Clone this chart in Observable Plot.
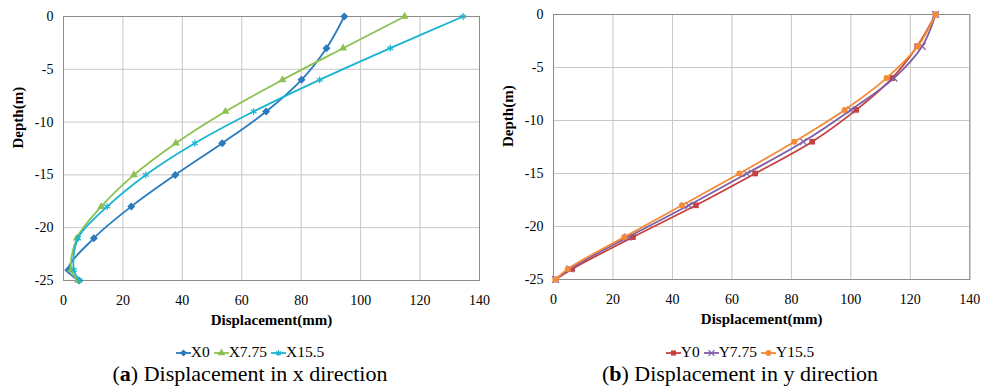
<!DOCTYPE html>
<html><head><meta charset="utf-8">
<script src="https://cdn.jsdelivr.net/npm/d3@7"></script>
<script src="https://cdn.jsdelivr.net/npm/@observablehq/plot@0.6"></script>
<style>
body{margin:0;background:#fff;font-family:"Liberation Serif",serif;}
#wrap{position:relative;width:982px;height:387px;overflow:hidden;}
.panel{position:absolute;top:0;}
.legend{position:absolute;top:342px;height:20px;line-height:20px;font-size:15.5px;text-align:center;white-space:nowrap;}
.legend span.item{display:inline-block;margin:0 2px;}
.legend svg{vertical-align:middle;margin-right:0px;}
.caption{position:absolute;top:362px;height:24px;line-height:24px;font-size:22px;text-align:center;white-space:nowrap;}
</style></head>
<body>
<div id="wrap"></div>
<script>
const depth = [0, -3, -6, -9, -12, -15, -18, -21, -24, -25];
const X0    = [94.5, 88.5, 80.1, 68.2, 53.4, 37.6, 22.8, 10.2, 1.6, 5.2];
const X7_75 = [114.8, 94.1, 73.7, 54.5, 37.8, 23.7, 12.7, 4.5, 2.6, 4.9];
const X15_5 = [134.5, 110.0, 86.2, 64.0, 44.2, 27.7, 14.7, 4.9, 3.5, 5.4];
const Y0    = [128.5, 122.3, 113.9, 101.8, 87.0, 67.8, 47.9, 26.7, 6.3, 0.7];
const Y7_75 = [128.5, 124.0, 114.5, 100.0, 84.0, 65.0, 45.5, 25.0, 5.5, 0.7];
const Y15_5 = [128.5, 122.5, 112.0, 97.9, 81.0, 62.5, 43.2, 23.8, 4.8, 0.7];
const xTicks = [0, 20, 40, 60, 80, 100, 120, 140];
const yTicks = [0, -5, -10, -15, -20, -25];
const xLabel = "Displacement(mm)";
const yLabel = "Depth(m)";

const seriesA = [
  {name: "X0", values: X0, color: "#2a7bbd", symbol: "square", rot: 45, filled: true},
  {name: "X7.75", values: X7_75, color: "#8cc152", symbol: "triangle", rot: 0, filled: true},
  {name: "X15.5", values: X15_5, color: "#18b4d0", symbol: "asterisk", rot: 0, filled: false}
];
const seriesB = [
  {name: "Y0", values: Y0, color: "#c4413f", symbol: "square", rot: 0, filled: true},
  {name: "Y7.75", values: Y7_75, color: "#7e5ea6", symbol: "times", rot: 0, filled: false},
  {name: "Y15.5", values: Y15_5, color: "#f58a35", symbol: "circle", rot: 0, filled: true}
];

function panel(series, opts) {
  const marks = [
    Plot.gridX(xTicks, {stroke: "#c4c4c4", strokeOpacity: 1}),
    Plot.gridY(yTicks, {stroke: "#c8c8c8", strokeOpacity: 1}),
    Plot.frame({stroke: "#8c8c8c"}),
    Plot.axisX(xTicks, {tickSize: 0, tickPadding: 15, tickFormat: d => String(d), label: null, fontSize: 14}),
    Plot.axisY(yTicks, {tickSize: 0, tickPadding: 10, tickFormat: d => String(d), label: null, fontSize: 14}),
    Plot.text([xLabel], {frameAnchor: "bottom", dy: 44, text: d => d, fontWeight: "bold", fontSize: 15}),
    Plot.text([yLabel], {frameAnchor: "left", dx: -45, rotate: -90, text: d => d, fontWeight: "bold", fontSize: 15})
  ];
  for (const s of series) {
    const rows = depth.map((d, i) => ({x: s.values[i], y: d}));
    marks.push(Plot.line(rows, {x: "x", y: "y", stroke: s.color, strokeWidth: 1.8, curve: "catmull-rom"}));
    if (s.filled) {
      marks.push(Plot.dot(rows, {x: "x", y: "y", fill: s.color, stroke: "none", symbol: s.symbol, rotate: s.rot,
        r: s.symbol === "square" ? 3.2 : 3}));
    } else {
      marks.push(Plot.dot(rows, {x: "x", y: "y", stroke: s.color, fill: "none", symbol: s.symbol, r: 3.2, strokeWidth: 1.2}));
    }
  }
  return Plot.plot({
    width: opts.width, height: 335,
    marginLeft: 63, marginRight: opts.marginRight, marginTop: opts.marginTop, marginBottom: 335 - opts.bottom,
    x: {domain: [0, 140]},
    y: {domain: [-25, 0]},
    style: {fontFamily: "'Liberation Serif', serif", fontSize: "14px", color: "#000", background: "transparent"},
    marks
  });
}

const symMap = {triangle: d3.symbolTriangle, asterisk: d3.symbolAsterisk,
  square: d3.symbolSquare, times: d3.symbolTimes, circle: d3.symbolCircle};

function legend(series, left, width) {
  const div = document.createElement("div");
  div.className = "legend";
  div.style.left = left + "px";
  div.style.width = width + "px";
  for (const s of series) {
    const item = document.createElement("span");
    item.className = "item";
    const svg = d3.create("svg").attr("width", 15).attr("height", 10);
    svg.append("line").attr("x1", 0).attr("x2", 15).attr("y1", 5).attr("y2", 5).attr("stroke", s.color).attr("stroke-width", 1.8);
    const p = d3.symbol(symMap[s.symbol], s.filled ? 26 : 24)();
    svg.append("path").attr("d", p).attr("transform", `translate(7.5,5) rotate(${s.rot})`)
      .attr("fill", s.filled ? s.color : "none").attr("stroke", s.filled ? "none" : s.color).attr("stroke-width", 1.2);
    item.appendChild(svg.node());
    item.appendChild(document.createTextNode(s.name));
    div.appendChild(item);
  }
  return div;
}

function caption(letter, text, left, width) {
  const div = document.createElement("div");
  div.className = "caption";
  div.style.left = left + "px";
  div.style.width = width + "px";
  div.innerHTML = "(<b>" + letter + "</b>) " + text;
  return div;
}

const wrap = document.getElementById("wrap");
const pa = document.createElement("div"); pa.className = "panel"; pa.style.left = "0px";
pa.appendChild(panel(seriesA, {width: 490, marginRight: 11, marginTop: 16, bottom: 280}));
wrap.appendChild(pa);
const pb = document.createElement("div"); pb.className = "panel"; pb.style.left = "490px";
pb.appendChild(panel(seriesB, {width: 492, marginRight: 12.7, marginTop: 14, bottom: 279}));
wrap.appendChild(pb);
wrap.appendChild(legend(seriesA, 0, 500));
wrap.appendChild(legend(seriesB, 490, 500));
wrap.appendChild(caption("a", "Displacement in x direction", 0, 500));
wrap.appendChild(caption("b", "Displacement in y direction", 490, 500));
</script>
</body></html>
